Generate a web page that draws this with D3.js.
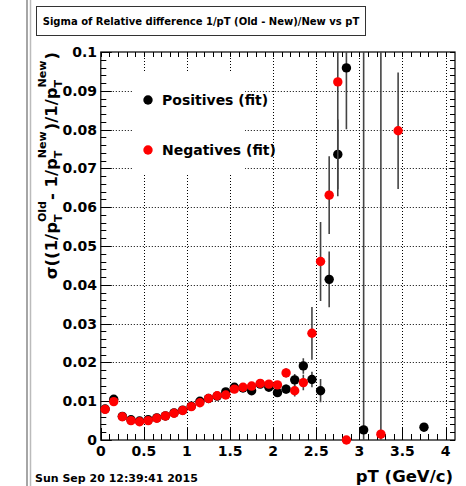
<!DOCTYPE html>
<html><head><meta charset="utf-8">
<script src="https://cdn.jsdelivr.net/npm/d3@7"></script>
<style>body{margin:0;background:#fff}svg{display:block}text{font-family:"DejaVu Sans",sans-serif;font-weight:bold}</style>
</head><body>
<script>
const posX = [0.05,0.15,0.25,0.35,0.45,0.55,0.65,0.75,0.85,0.95,1.05,1.15,1.25,1.35,1.45,1.55,1.65,1.75,1.85,1.95,2.05,2.15,2.25,2.35,2.45,2.55,2.65,2.75,2.85,3.05,3.75];
const posY = [0.0080,0.0105,0.0061,0.0052,0.0049,0.0052,0.0057,0.0062,0.0070,0.0077,0.0087,0.0100,0.0107,0.0113,0.0124,0.0136,0.0134,0.0127,0.0144,0.0136,0.0122,0.0131,0.0155,0.0191,0.0156,0.0127,0.0414,0.0736,0.0959,0.0026,0.0033];
const posErr = [0.0002,0.0002,0.0002,0.0002,0.0002,0.0002,0.0002,0.0002,0.0003,0.0003,0.0003,0.0003,0.0004,0.0004,0.0005,0.0005,0.0006,0.0007,0.0008,0.0010,0.0010,0.0012,0.0015,0.0020,0.0020,0.0030,0.0072,0.0090,0.0158,0.2000,0.0000];
const negX = [0.05,0.15,0.25,0.35,0.45,0.55,0.65,0.75,0.85,0.95,1.05,1.15,1.25,1.35,1.45,1.55,1.65,1.75,1.85,1.95,2.05,2.15,2.25,2.35,2.45,2.55,2.65,2.75,2.85,3.25,3.45];
const negY = [0.0079,0.0099,0.0060,0.0050,0.0047,0.0050,0.0056,0.0062,0.0069,0.0076,0.0086,0.0096,0.0107,0.0114,0.0116,0.0131,0.0136,0.0139,0.0146,0.0144,0.0142,0.0173,0.0127,0.0148,0.0275,0.0460,0.0631,0.0923,0.0000,0.0015,0.0797];
const negErr = [0.0002,0.0002,0.0002,0.0002,0.0002,0.0002,0.0002,0.0002,0.0003,0.0003,0.0003,0.0003,0.0004,0.0004,0.0005,0.0005,0.0006,0.0007,0.0008,0.0010,0.0010,0.0012,0.0015,0.0020,0.0068,0.0102,0.0100,0.0295,0.0000,0.2000,0.0150];
const xTickLabels = ["0","0.5","1","1.5","2","2.5","3","3.5","4"];
const yTickLabels = ["0","0.01","0.02","0.03","0.04","0.05","0.06","0.07","0.08","0.09","0.1"];
const titleText = "Sigma of Relative difference 1/pT (Old - New)/New vs pT";
const dateText = "Sun Sep 20 12:39:41 2015";
const xTitle = "pT (GeV/c)";
const legendItems = [{label:"Positives (fit)", color:"#000000"},{label:"Negatives (fit)", color:"#ff0000"}];

const W = 466, H = 486;
const L = 100.8, R = 455, T = 52, B = 440;
const svg = d3.select("body").append("svg").attr("width", W).attr("height", H);
const x = d3.scaleLinear().domain([0, 4.11]).range([L, R]);
const y = d3.scaleLinear().domain([0, 0.1]).range([B, T]);

// canvas border lines
svg.append("line").attr("x1",27).attr("x2",27).attr("y1",0).attr("y2",H).attr("stroke","#888").attr("stroke-width",1.5);
svg.append("line").attr("x1",30.5).attr("x2",30.5).attr("y1",0).attr("y2",H).attr("stroke","#bbb").attr("stroke-width",1.5);

// grid
const xMaj = xTickLabels.map(Number);
const yMaj = yTickLabels.map(Number);
const grid = svg.append("g").attr("stroke","#000").attr("stroke-width",1).attr("stroke-dasharray","1,2");
xMaj.filter(v=>v>0).forEach(v=>grid.append("line").attr("x1",Math.round(x(v))+0.5).attr("x2",Math.round(x(v))+0.5).attr("y1",T).attr("y2",B));
yMaj.filter(v=>v>0 && v<0.1).forEach(v=>grid.append("line").attr("x1",L).attr("x2",R).attr("y1",Math.round(y(v))+0.5).attr("y2",Math.round(y(v))+0.5));

// legend box (white, hides grid)
svg.append("rect").attr("x",133).attr("y",73).attr("width",112).attr("height",102).attr("fill","#fff");

// axes ticks
const ax = svg.append("g").attr("stroke","#000").attr("stroke-width",1);
const xMinor = d3.range(0, 41).map(i=>i/10).filter(v=>v<=4.11);
xMinor.forEach((v,i)=>{
  const px = Math.round(x(v))+0.5;
  const len = (i%5===0)?12:6;
  ax.append("line").attr("x1",px).attr("x2",px).attr("y1",B).attr("y2",B-len);
  ax.append("line").attr("x1",px).attr("x2",px).attr("y1",T).attr("y2",T+5);
});
const yMinor = d3.range(0, 51).map(i=>i*0.002);
yMinor.forEach((v,i)=>{
  const py = Math.round(y(v))+0.5;
  const len = (i%5===0)?11:5.5;
  ax.append("line").attr("x1",L).attr("x2",L+len).attr("y1",py).attr("y2",py);
  ax.append("line").attr("x1",R).attr("x2",R-5).attr("y1",py).attr("y2",py);
});
svg.append("rect").attr("x",L).attr("y",T).attr("width",R-L).attr("height",B-T).attr("fill","none").attr("stroke","#000").attr("stroke-width",1.2);

// tick labels
xTickLabels.forEach(t=>svg.append("text").attr("x",x(+t)).attr("y",456).attr("text-anchor","middle").attr("font-size",14).text(t));
yTickLabels.forEach(t=>svg.append("text").attr("x",97).attr("y",y(+t)+5).attr("text-anchor","end").attr("font-size",14).text(t));

// data
const clipId = "plotclip";
svg.append("clipPath").attr("id",clipId).append("rect").attr("x",L).attr("y",T).attr("width",R-L).attr("height",B-T);
function drawSeries(xs, ys, es, color){
  const g = svg.append("g").attr("clip-path",`url(#${clipId})`);
  xs.forEach((xv,i)=>{
    if (es[i] > 0) {
      g.append("line").attr("x1",x(xv)).attr("x2",x(xv))
        .attr("y1",y(Math.max(0, ys[i]-es[i]))).attr("y2",y(Math.min(0.12, ys[i]+es[i])))
        .attr("stroke","#444").attr("stroke-width",1.6);
    }
  });
  const g2 = svg.append("g");
  xs.forEach((xv,i)=>{
    g2.append("circle").attr("cx",x(xv)).attr("cy",y(ys[i])).attr("r",4.7).attr("fill",color);
  });
}
drawSeries(posX, posY, posErr, "#000000");
drawSeries(negX, negY, negErr, "#ff0000");

// legend
legendItems.forEach((d,i)=>{
  const cy = 100 + i*50;
  svg.append("circle").attr("cx",148).attr("cy",cy).attr("r",4.7).attr("fill",d.color);
  svg.append("text").attr("x",162).attr("y",cy+5).attr("font-size",14).text(d.label);
});

// title box
svg.append("rect").attr("x",36.5).attr("y",6.5).attr("width",329).attr("height",29).attr("fill","#fff").attr("stroke","#333").attr("stroke-width",1);
svg.append("text").attr("x",201).attr("y",25).attr("text-anchor","middle").attr("font-size",10).text(titleText);

// date
svg.append("text").attr("x",35).attr("y",482).attr("font-size",11).text(dateText);

// x title
svg.append("text").attr("x",453).attr("y",482).attr("text-anchor","end").attr("font-size",16.5).text(xTitle);

// y title with sub/sup
const segs = [
  {t:"σ", sym:true},{t:"((1/p"},{sub:"T",sup:"Old"},{t:" - 1/p"},{sub:"T",sup:"New"},{t:")/1/p"},{sub:"T",sup:"New"},{t:")"}
];
const yt = svg.append("g");
let cur = 0;
segs.forEach(s=>{
  if (s.t !== undefined) {
    const el = yt.append("text").attr("x",cur).attr("y",0).attr("font-size",16.5).text(s.t);
    if (s.sym) el.attr("font-weight","normal");
    cur += el.node().getComputedTextLength();
  } else {
    const a = yt.append("text").attr("x",cur).attr("y",4.5).attr("font-size",11).text(s.sub);
    const b = yt.append("text").attr("x",cur).attr("y",-11).attr("font-size",11).text(s.sup);
    cur += Math.max(a.node().getComputedTextLength(), b.node().getComputedTextLength()) + 1;
  }
});
yt.attr("transform",`translate(57,${52+cur}) rotate(-90)`);
</script>
</body></html>
